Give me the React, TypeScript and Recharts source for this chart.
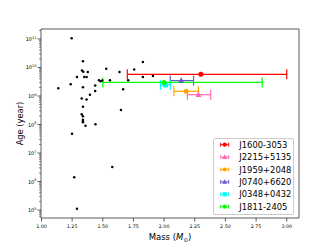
import React from 'react';
import { ScatterChart, Scatter, XAxis, YAxis, ErrorBar, Legend, Label } from 'recharts';

// Field pulsars (black dots)
const fieldMass = [1.246, 1.338, 1.330, 1.341, 1.377, 1.289, 1.349, 1.368, 1.528, 1.636, 1.469, 1.482, 1.496, 1.558, 1.707, 1.756, 1.827, 1.827, 1.909, 1.137, 1.238, 1.338, 1.438, 1.438, 1.666, 1.395, 1.328, 1.368, 1.338, 1.648, 1.328, 1.338, 1.338, 1.338, 1.338, 1.359, 1.440, 1.249, 1.577, 1.267, 1.289];
const fieldAge = [1.07e11, 1.66e10, 7.8e9, 7.1e9, 6.9e9, 4.6e9, 4.6e9, 4.6e9, 9.1e9, 6.9e9, 3.6e9, 3.3e9, 3.5e9, 3.6e9, 3.6e9, 8.5e9, 1.55e10, 4.6e9, 5.0e9, 1.86e9, 2.6e9, 2.04e9, 2.34e9, 1.51e9, 1.74e9, 1.10e9, 8.1e8, 7.6e8, 4.2e8, 3.2e8, 2.3e8, 1.95e8, 1.48e8, 1.32e8, 1.20e8, 9.1e7, 1.02e8, 4.7e7, 3.2e6, 1.41e6, 1.10e5];

// Named heavy pulsars
const pulsarNames = ['J1600-3053', 'J2215+5135', 'J1959+2048', 'J0740+6620', 'J0348+0432', 'J1811-2405'];
const pulsarMass = [2.30, 2.28, 2.18, 2.14, 2.01, 2.00];
const pulsarAge = [5.75e9, 1.11e9, 1.46e9, 3.47e9, 2.45e9, 3.0e9];
const pulsarMassErrLow = [0.60, 0.09, 0.10, 0.09, 0.04, 0.50];
const pulsarMassErrHigh = [0.70, 0.10, 0.10, 0.10, 0.04, 0.80];
const pulsarColors = ['#ff0000', '#ff69b4', '#ffa500', '#6a5acd', '#00ffff', '#00ff00'];
const pulsarShapes = ['circle', 'triangle', 'circle', 'triangle', 'square', 'circle'];

// Axes
const xTicks = [1.0, 1.25, 1.5, 1.75, 2.0, 2.25, 2.5, 2.75, 3.0];
const xDomain = [0.996, 3.1];
const yMajorTicks = [1e5, 1e6, 1e7, 1e8, 1e9, 1e10, 1e11];
const yDomain = [5.25e4, 2.24e11];
const minorMultipliers = [2, 3, 4, 5, 6, 7, 8, 9];

const FONT = '"DejaVu Sans", sans-serif';
const AXIS_COLOR = '#333';

const fieldData = fieldMass.map((m, i) => ({ m, age: fieldAge[i] }));
const pulsarData = pulsarNames.map((name, i) => [
  { m: pulsarMass[i], age: pulsarAge[i], err: [pulsarMassErrLow[i], pulsarMassErrHigh[i]] },
]);

const yTicksAll = (() => {
  const out: number[] = [];
  [1e4, ...yMajorTicks].forEach((base) => {
    if (base >= yDomain[0] && base <= yDomain[1]) out.push(base);
    minorMultipliers.forEach((k) => {
      const v = base * k;
      if (v >= yDomain[0] && v <= yDomain[1]) out.push(v);
    });
  });
  return out.sort((a, b) => a - b);
})();

function drawMarker(shape: string, cx: number, cy: number, size: number, color: string, key?: string) {
  if (shape === 'square') {
    return <rect key={key} x={cx - size / 2} y={cy - size / 2} width={size} height={size} fill={color} />;
  }
  if (shape === 'triangle') {
    const h = size * 1.1;
    return (
      <polygon
        key={key}
        points={`${cx},${cy - h * 0.6} ${cx - h * 0.55},${cy + h * 0.4} ${cx + h * 0.55},${cy + h * 0.4}`}
        fill={color}
      />
    );
  }
  return <circle key={key} cx={cx} cy={cy} r={size / 2} fill={color} />;
}

const XTick = (p: any) => {
  const { x, y, payload } = p;
  return (
    <g>
      <line x1={x} x2={x} y1={y} y2={y + 3.5} stroke={AXIS_COLOR} strokeWidth={0.8} />
      <text x={x} y={y + 9.6} textAnchor="middle" fontSize={4.8} fontFamily={FONT} fill="#000">
        {Number(payload.value).toFixed(2)}
      </text>
    </g>
  );
};

const YTick = (p: any) => {
  const { x, y, payload } = p;
  const v = Number(payload.value);
  const lg = Math.log10(v);
  const isMajor = Math.abs(lg - Math.round(lg)) < 1e-6;
  if (!isMajor) {
    return <line x1={x} x2={x - 2} y1={y} y2={y} stroke={AXIS_COLOR} strokeWidth={0.6} />;
  }
  return (
    <g>
      <line x1={x} x2={x - 3.5} y1={y} y2={y} stroke={AXIS_COLOR} strokeWidth={0.8} />
      <text x={x - 4.5} y={y + 2} textAnchor="end" fontSize={5} fontFamily={FONT} fill="#000">
        <tspan>10</tspan>
        <tspan dy={-2.2} fontSize={3.5}>{Math.round(lg)}</tspan>
      </text>
    </g>
  );
};

const XLabel = (p: any) => {
  const vb = p.viewBox || { x: 41, y: 218, width: 258, height: 1 };
  return (
    <text x={vb.x + vb.width / 2} y={vb.y + 22} textAnchor="middle" fontSize={8.5} fontFamily={FONT} fill="#000">
      <tspan>Mass (</tspan>
      <tspan fontStyle="italic">M</tspan>
      <tspan fontSize={5.5} dy={1.8}>⊙</tspan>
      <tspan dy={-1.8}>)</tspan>
    </text>
  );
};

const YLabel = (p: any) => {
  const vb = p.viewBox || { x: 40, y: 29, width: 1, height: 189 };
  const cx = vb.x + vb.width - 21.5;
  const cy = vb.y + vb.height / 2;
  return (
    <text
      x={cx}
      y={cy}
      transform={`rotate(-90 ${cx} ${cy})`}
      textAnchor="middle"
      dominantBaseline="central"
      fontSize={8.3}
      fontFamily={FONT}
      fill="#000"
    >
      Age (year)
    </text>
  );
};

const renderLegend = () => {
  const w = 81;
  const h = 77;
  return (
    <div
      style={{
        width: w,
        height: h,
        boxSizing: 'border-box',
        border: '1px solid #cccccc',
        borderRadius: 2,
        background: 'rgba(255,255,255,0.9)',
        position: 'relative',
      }}
    >
      <svg width={w} height={h} style={{ position: 'absolute', left: -1, top: -1, overflow: 'visible' }}>
        {pulsarNames.map((name, i) => {
          const cy = 6.7 + 12.4 * i;
          const cx = 11.7;
          const c = pulsarColors[i];
          return (
            <g key={name}>
              <line x1={cx - 4} x2={cx + 4} y1={cy} y2={cy} stroke={c} strokeWidth={1} />
              <line x1={cx - 4} x2={cx - 4} y1={cy - 2} y2={cy + 2} stroke={c} strokeWidth={1} />
              <line x1={cx + 4} x2={cx + 4} y1={cy - 2} y2={cy + 2} stroke={c} strokeWidth={1} />
              {drawMarker(pulsarShapes[i], cx, cy, 4.2, c)}
              <text x={26.3} y={cy + 3} fontSize={8.4} fontFamily={FONT} fill="#000">
                {name}
              </text>
            </g>
          );
        })}
      </svg>
    </div>
  );
};

export default function App() {
  return (
    <div style={{ position: 'absolute', left: 0, top: 0, width: 332, height: 249, background: '#fff' }}>
      <ScatterChart width={332} height={249} margin={{ top: 28, right: 32, bottom: 30, left: 40 }}>
        <XAxis
          xAxisId="main"
          type="number"
          dataKey="m"
          domain={xDomain}
          allowDataOverflow
          ticks={xTicks}
          interval={0}
          height={1}
          tickSize={0}
          tickMargin={0}
          tickLine={false}
          tick={<XTick />}
          axisLine={{ stroke: AXIS_COLOR, strokeWidth: 0.8 }}
        >
          <Label content={<XLabel />} />
        </XAxis>
        <XAxis
          xAxisId="top"
          orientation="top"
          type="number"
          domain={xDomain}
          allowDataOverflow
          height={1}
          tick={false}
          tickLine={false}
          axisLine={{ stroke: AXIS_COLOR, strokeWidth: 0.8 }}
        />
        <YAxis
          yAxisId="main"
          type="number"
          dataKey="age"
          scale="log"
          domain={yDomain}
          allowDataOverflow
          ticks={yTicksAll}
          interval={0}
          width={1}
          tickSize={0}
          tickMargin={0}
          tickLine={false}
          tick={<YTick />}
          axisLine={{ stroke: AXIS_COLOR, strokeWidth: 0.8 }}
        >
          <Label content={<YLabel />} />
        </YAxis>
        <YAxis
          yAxisId="right"
          orientation="right"
          type="number"
          domain={[0, 1]}
          width={1}
          tick={false}
          tickLine={false}
          axisLine={{ stroke: AXIS_COLOR, strokeWidth: 0.8 }}
        />
        <Scatter
          xAxisId="main"
          yAxisId="main"
          data={fieldData}
          isAnimationActive={false}
          legendType="none"
          shape={(p: any) => <circle cx={p.cx} cy={p.cy} r={1.25} fill="#000" />}
        />
        {pulsarNames.map((name, i) => (
          <Scatter
            key={name}
            name={name}
            xAxisId="main"
            yAxisId="main"
            data={pulsarData[i]}
            isAnimationActive={false}
            fill={pulsarColors[i]}
            shape={(p: any) => drawMarker(pulsarShapes[i], p.cx, p.cy, 5, pulsarColors[i])}
          >
            <ErrorBar
              dataKey="err"
              direction="x"
              width={5}
              stroke={pulsarColors[i]}
              strokeWidth={1.2}
              isAnimationActive={false}
            />
          </Scatter>
        ))}
        <Legend
          layout="horizontal"
          verticalAlign="middle"
          align="center"
          content={renderLegend}
          wrapperStyle={{ left: 213, top: 138, width: 81, height: 77 }}
        />
      </ScatterChart>
    </div>
  );
}
